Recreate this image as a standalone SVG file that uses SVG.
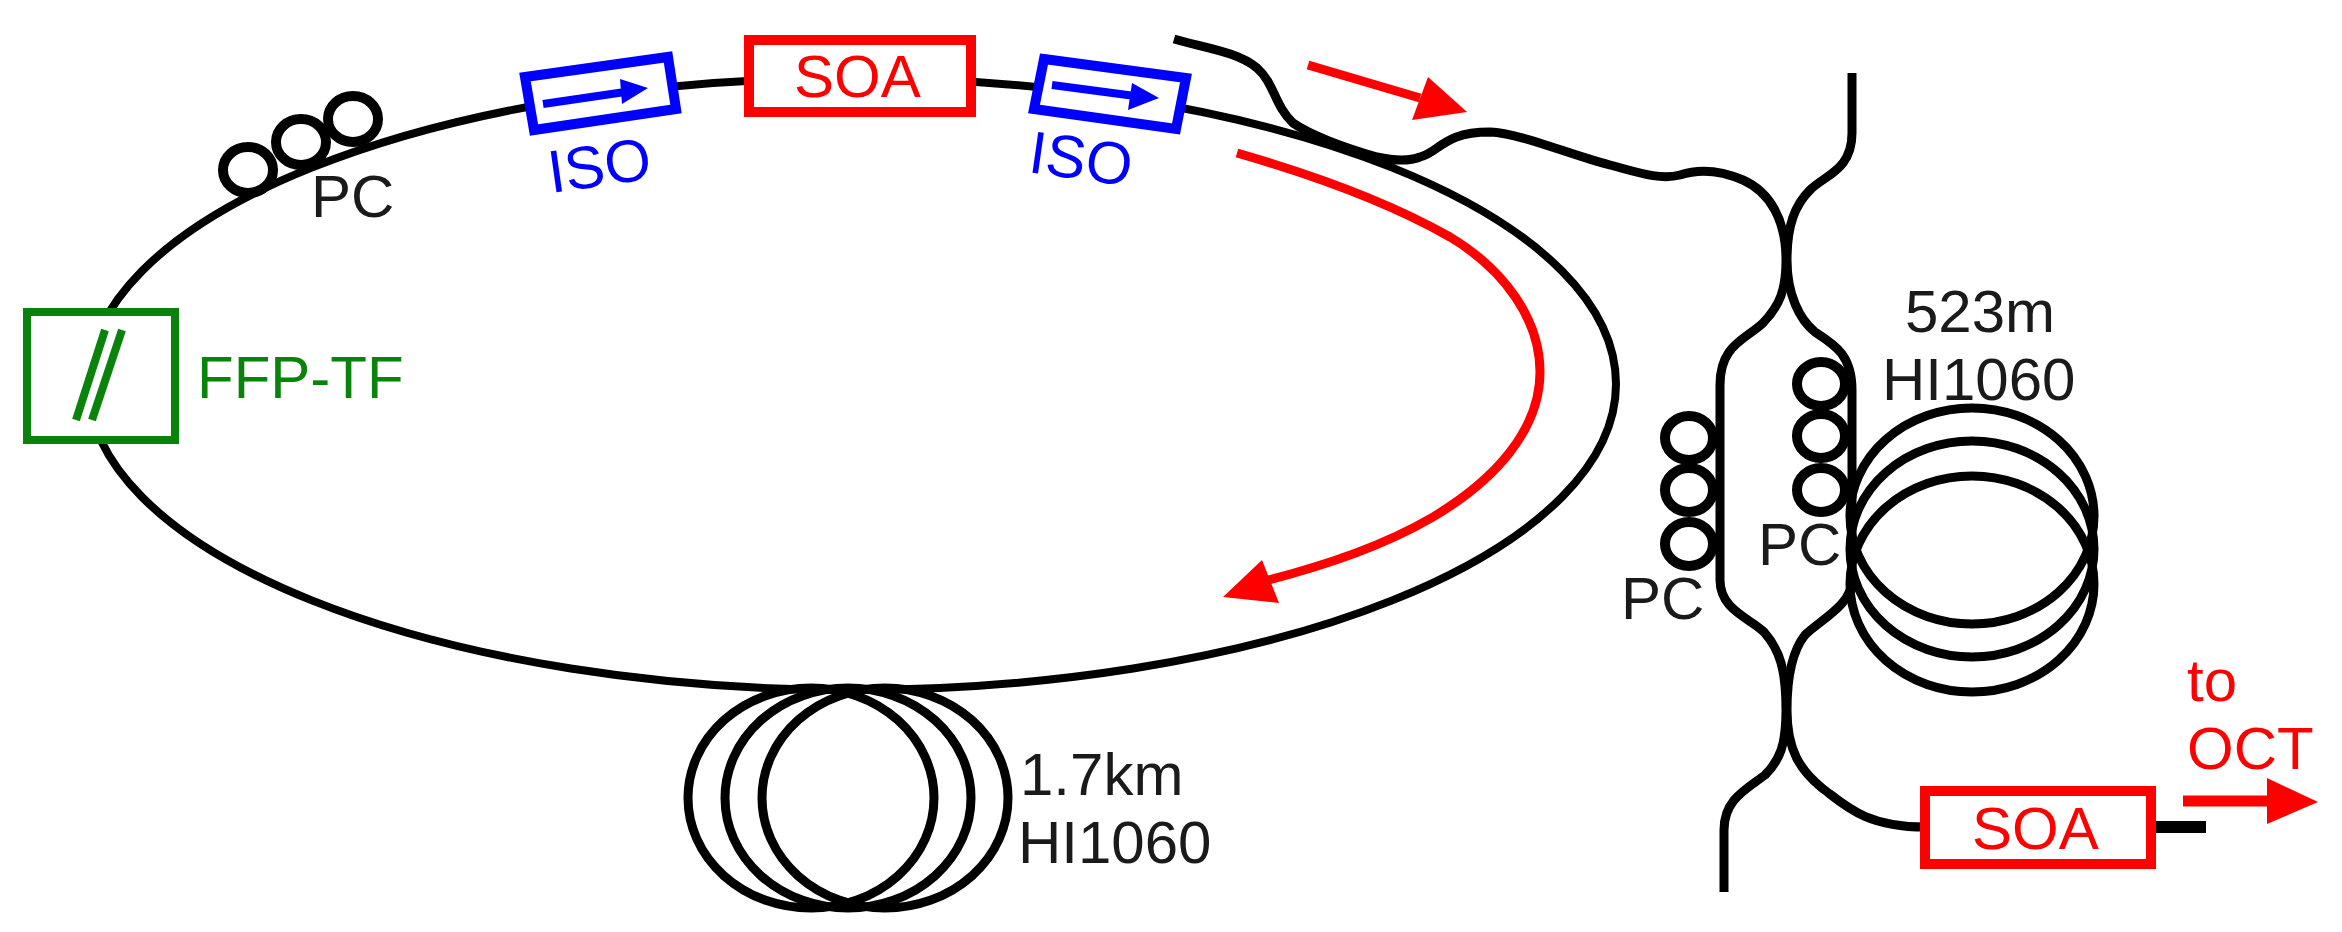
<svg xmlns="http://www.w3.org/2000/svg" width="2342" height="932" viewBox="0 0 2342 932">
<style>
text{font-family:"Liberation Sans",Arial,sans-serif;font-size:60px}
.k{fill:#1a1a1a}.r{fill:#f00}.b{fill:#00f}.g{fill:#0a830a}
.f{fill:none;stroke:#000;stroke-width:9;stroke-linejoin:round}
.c{fill:none;stroke:#000;stroke-width:9}
.p{fill:none;stroke:#000;stroke-width:10}
.a{fill:none;stroke:#f00;stroke-width:9}
</style>
<rect width="2342" height="932" fill="#fff"/>
<g id="connectors">
<ellipse id="loop" cx="852" cy="384" rx="764" ry="306" fill="none" stroke="#000" stroke-width="8"/>
<path id="input-fiber" class="f" d="M1174 39C1205 48 1238 52 1257 68C1275 84 1274 105 1293 123C1310 135 1345 148 1377 157C1395 161 1410 161 1420 157C1440 152 1443 132 1490 132C1520 133 1570 155 1610 165C1640 173 1660 180 1680 175C1695 170 1715 168 1743 180C1770 192 1786 220 1786 260C1786 290 1780 305 1763 323C1745 340 1720 345 1720 385L1720 580C1720 610 1750 618 1764 632C1780 650 1786 670 1786 710C1786 745 1780 760 1765 775C1745 790 1724 800 1724 830L1724 892"/>
<path id="output-fiber" class="f" d="M1852 73L1852 133C1852 170 1825 175 1810 190C1795 205 1787 225 1787 260C1787 295 1800 320 1815 332C1835 345 1852 355 1852 390L1852 580C1852 605 1820 620 1805 635C1793 650 1787 675 1787 710C1787 750 1800 770 1822 788C1845 805 1865 827 1925 827"/>
<path id="soa-tail" d="M2156 827L2206 827" fill="none" stroke="#000" stroke-width="12"/>
</g>
<g id="coil-1-7km" class="c">
<ellipse cx="811" cy="798" rx="123" ry="110"/>
<ellipse cx="848" cy="798" rx="123" ry="110"/>
<ellipse cx="885" cy="798" rx="123" ry="110"/>
</g>
<g id="coil-523m" class="c">
<ellipse cx="1972" cy="516" rx="122" ry="108"/>
<ellipse cx="1972" cy="549" rx="122" ry="108"/>
<ellipse cx="1972" cy="584" rx="122" ry="108"/>
</g>
<g id="pc-top" class="p">
<ellipse cx="248" cy="170" rx="25" ry="23"/>
<ellipse cx="301" cy="142" rx="25" ry="23"/>
<ellipse cx="353" cy="119" rx="25" ry="23"/>
</g>
<text x="311" y="217" class="k">PC</text>
<g id="pc-left" class="p">
<ellipse cx="1689" cy="438" rx="24" ry="22"/>
<ellipse cx="1689" cy="490" rx="24" ry="22"/>
<ellipse cx="1689" cy="544" rx="24" ry="22"/>
</g>
<text x="1621" y="619" class="k">PC</text>
<g id="pc-right" class="p">
<ellipse cx="1821" cy="384" rx="24" ry="22"/>
<ellipse cx="1821" cy="436" rx="24" ry="22"/>
<ellipse cx="1821" cy="490" rx="24" ry="22"/>
</g>
<text x="1758" y="565" class="k">PC</text>
<g id="ffp-tf">
<rect x="27" y="312" width="148" height="128" fill="#fff" stroke="#0a830a" stroke-width="8"/>
<path d="M105 330L76 420M122 330L92 420" fill="none" stroke="#0a830a" stroke-width="8"/>
<text x="197" y="398" class="g">FFP-TF</text>
</g>
<g id="iso-1">
<polygon points="525,77 668,57 676,109 534,130" fill="#fff" stroke="#00f" stroke-width="10"/>
<path d="M543 104L625 92" stroke="#00f" stroke-width="8" fill="none"/>
<polygon points="620,79 648,88 622,104" fill="#00f"/>
<text transform="translate(551 193) rotate(-8)" class="b" font-size="56">ISO</text>
</g>
<g id="soa-1">
<rect x="749" y="40" width="222" height="72" fill="#fff" stroke="#f00" stroke-width="10"/>
<text x="794" y="97" class="r">SOA</text>
</g>
<g id="iso-2">
<polygon points="1044,59 1186,78 1176,129 1034,109" fill="#fff" stroke="#00f" stroke-width="10"/>
<path d="M1052 85L1135 96" stroke="#00f" stroke-width="8" fill="none"/>
<polygon points="1132,83 1159,98 1128,110" fill="#00f"/>
<text transform="translate(1027 172) rotate(8)" class="b" font-size="56">ISO</text>
</g>
<g id="soa-2">
<rect x="1925" y="791" width="226" height="73" fill="#fff" stroke="#f00" stroke-width="10"/>
<text x="1972" y="849" class="r">SOA</text>
</g>
<g id="labels">
<text x="1905" y="332" class="k">523m</text>
<text x="1882" y="400" class="k">HI1060</text>
<text x="1020" y="795" class="k">1.7km</text>
<text x="1018" y="863" class="k">HI1060</text>
<text x="2187" y="701" class="r">to</text>
<text x="2187" y="769" class="r">OCT</text>
</g>
<g id="flow-arrows">
<path d="M1308 65L1420 98" class="a"/>
<polygon points="1467,112 1412,120 1428,77" fill="#f00"/>
<path d="M1237 153C1310 174 1385 200 1450 237C1505 270 1540 320 1540 372C1540 430 1495 480 1433 517C1385 545 1330 564 1265 581" class="a"/>
<polygon points="1223,597 1262,560 1279,603" fill="#f00"/>
<path d="M2183 801L2270 801" stroke="#f00" stroke-width="11" fill="none"/>
<polygon points="2318,802 2267,778 2267,824" fill="#f00"/>
</g>
</svg>
